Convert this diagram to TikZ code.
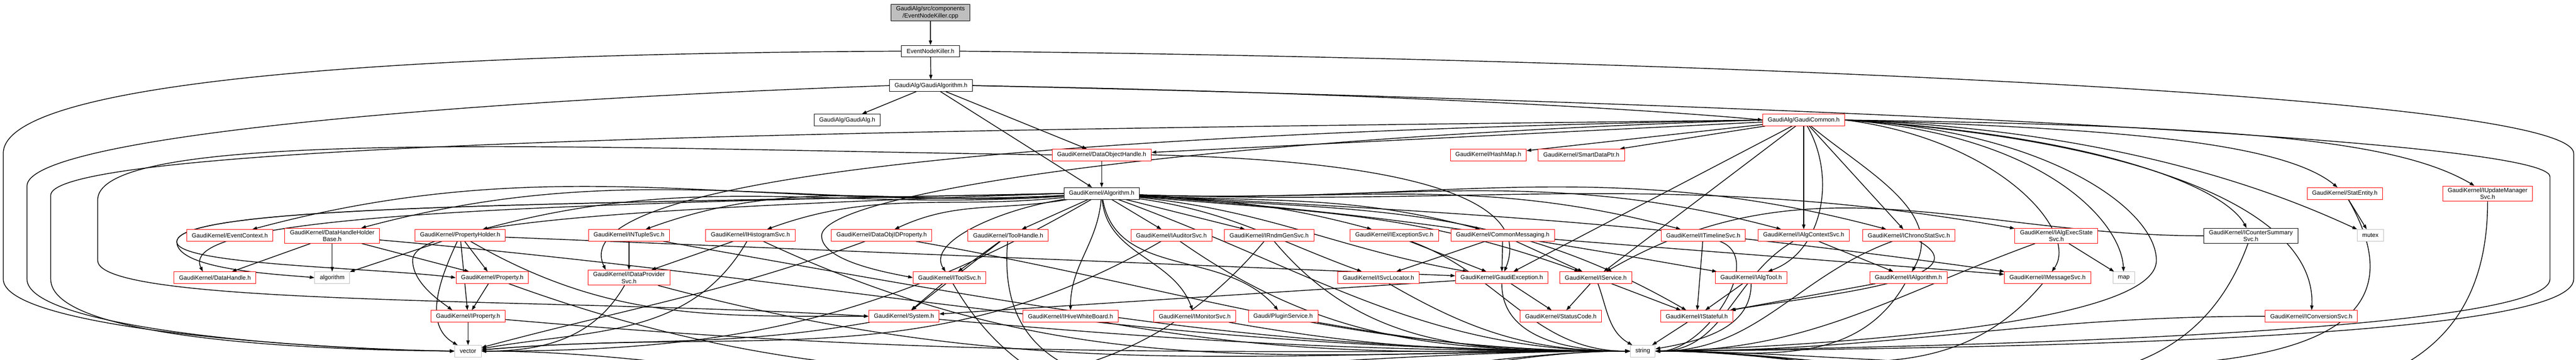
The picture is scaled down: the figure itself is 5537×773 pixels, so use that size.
\documentclass[tikz,border=0pt]{standalone}
\usepackage{fontspec}
\setmainfont{Liberation Sans}
\usetikzlibrary{arrows.meta,backgrounds}

\definecolor{edgeblue}{HTML}{191970}
\definecolor{boxred}{HTML}{FF0000}
\definecolor{boxgrey}{HTML}{BFBFBF}

\tikzset{
  box/.style={draw=black, line width=0.25pt, fill=white, inner xsep=2.75pt, inner ysep=1pt,
    minimum height=6.25pt, align=center, font=\fontsize{3.225}{3.75}\selectfont},
  redbox/.style={box, draw=boxred},
  greybox/.style={box, draw=boxgrey},
  rootbox/.style={box, fill=boxgrey},
}

\begin{document}
\begin{tikzpicture}[x=0.25pt, y=-0.25pt]
  \useasboundingbox (0,0) rectangle (5537,773);
  % include files, one row per rank
  \path
    (2000,27) node[rootbox] (cpp) {GaudiAlg/src/components\\/EventNodeKiller.cpp}
    (2000,110) node[box] (enk) {EventNodeKiller.h}
    (2001,184) node[box] (galgo) {GaudiAlg/GaudiAlgorithm.h}
    (1821,258) node[box] (galg) {GaudiAlg/GaudiAlg.h}
    (3877,258) node[redbox] (gcommon) {GaudiAlg/GaudiCommon.h}
    (2368,333) node[redbox] (doh) {GaudiKernel/DataObjectHandle.h}
    (3199,333) node[redbox] (hashmap) {GaudiKernel/HashMap.h}
    (3399,333) node[redbox] (smartptr) {GaudiKernel/SmartDataPtr.h}
    (2368,416) node[box] (algorithm) {GaudiKernel/Algorithm.h}
    (5040,416) node[redbox] (statentity) {GaudiKernel/StatEntity.h}
    (5347,416) node[redbox] (iupdmgr) {GaudiKernel/IUpdateManager\\Svc.h}
    (494,506) node[redbox] (evctx) {GaudiKernel/EventContext.h}
    (714,507) node[redbox] (dhhb) {GaudiKernel/DataHandleHolder\\Base.h}
    (989,506) node[redbox] (propholder) {GaudiKernel/PropertyHolder.h}
    (1352,506) node[redbox] (intuple) {GaudiKernel/INTupleSvc.h}
    (1613,506) node[redbox] (ihisto) {GaudiKernel/IHistogramSvc.h}
    (1895,506) node[redbox] (dataobjid) {GaudiKernel/DataObjIDProperty.h}
    (2167,506) node[redbox] (toolhandle) {GaudiKernel/ToolHandle.h}
    (2518,506) node[redbox] (iauditor) {GaudiKernel/IAuditorSvc.h}
    (2728,506) node[redbox] (irndm) {GaudiKernel/IRndmGenSvc.h}
    (2997,506) node[redbox] (iexception) {GaudiKernel/IExceptionSvc.h}
    (3230,506) node[redbox] (commonmsg) {GaudiKernel/CommonMessaging.h}
    (3661,506) node[redbox] (itimeline) {GaudiKernel/ITimelineSvc.h}
    (3877,506) node[redbox] (ialgctx) {GaudiKernel/IAlgContextSvc.h}
    (4103,506) node[redbox] (ichrono) {GaudiKernel/IChronoStatSvc.h}
    (4420,507) node[redbox] (ialgexec) {GaudiKernel/IAlgExecState\\Svc.h}
    (4838,507) node[box] (icounter) {GaudiKernel/ICounterSummary\\Svc.h}
    (5095,506) node[greybox] (mutex) {mutex}
    (462,597) node[redbox] (datahandle) {GaudiKernel/DataHandle.h}
    (714,597) node[greybox] (algostd) {algorithm}
    (1058,597) node[redbox] (property) {GaudiKernel/Property.h}
    (1352,597) node[redbox] (idataprov) {GaudiKernel/IDataProvider\\Svc.h}
    (2041,597) node[redbox] (itoolsvc) {GaudiKernel/IToolSvc.h}
    (2963,597) node[redbox] (isvcloc) {GaudiKernel/ISvcLocator.h}
    (3228,597) node[redbox] (gexception) {GaudiKernel/GaudiException.h}
    (3430,597) node[redbox] (iservice) {GaudiKernel/IService.h}
    (3764,597) node[redbox] (ialgtool) {GaudiKernel/IAlgTool.h}
    (4102,597) node[redbox] (ialgorithm) {GaudiKernel/IAlgorithm.h}
    (4401,597) node[redbox] (imsgsvc) {GaudiKernel/IMessageSvc.h}
    (4565,597) node[greybox] (map) {map}
    (1006,680) node[redbox] (iproperty) {GaudiKernel/IProperty.h}
    (1943,680) node[redbox] (system) {GaudiKernel/System.h}
    (2301,680) node[redbox] (ihive) {GaudiKernel/IHiveWhiteBoard.h}
    (2568,680) node[redbox] (imonitor) {GaudiKernel/IMonitorSvc.h}
    (2758,680) node[redbox] (plugin) {Gaudi/PluginService.h}
    (3355,680) node[redbox] (statuscode) {GaudiKernel/StatusCode.h}
    (3647,680) node[redbox] (istateful) {GaudiKernel/IStateful.h}
    (4968,680) node[redbox] (iconversion) {GaudiKernel/IConversionSvc.h}
    (1006,755) node[greybox] (vector) {vector}
    (3531,755) node[greybox] (string) {string};
  \begin{scope}[on background layer, edgeblue, line width=0.25pt, -{Triangle[length=2.5pt,width=1.75pt]}]
    % top of the graph
    \draw (cpp) to (enk);
    \draw (enk) to (galgo);
    \draw (enk.west) .. controls (900,115) and (7,170) .. (7,330) -- (7,600) .. controls (7,700) and (600,748) .. (vector.west);
    \draw (enk.east) .. controls (3500,125) and (5532,200) .. (5532,330) -- (5532,600) .. controls (5532,720) and (4500,748) .. (string.east);
    \draw (galgo) to (galg);
    \draw (galgo.east) .. controls (3000,200) and (3600,240) .. (gcommon.west);
    \draw (galgo) to (doh);
    \draw (galgo) to (algorithm);
    \draw (galgo.west) .. controls (900,220) and (58,300) .. (58,400) -- (58,600) .. controls (58,700) and (600,750) .. (vector.west);
    \draw (galgo.east) .. controls (3500,215) and (5481,290) .. (5481,380) -- (5481,600) .. controls (5481,700) and (4500,742) .. (string.east);
    % GaudiCommon.h
    \draw (gcommon) to (doh);
    \draw (gcommon) to (hashmap);
    \draw (gcommon) to (smartptr);
    \draw (gcommon.east) .. controls (4500,275) and (4900,300) .. (statentity);
    \draw (gcommon.east) .. controls (4800,270) and (5150,300) .. (iupdmgr);
    \draw (gcommon.west) .. controls (2500,275) and (109,290) .. (109,420) -- (109,600) .. controls (109,720) and (600,752) .. (vector.west);
    \draw (gcommon.east) .. controls (4400,280) and (4635,450) .. (4635,560) .. controls (4635,690) and (4000,740) .. (string.east);
    \draw (gcommon) to (ialgctx);
    \draw (gcommon) to (ichrono);
    \draw (gcommon.east) .. controls (4500,290) and (4780,400) .. (icounter);
    \draw (gcommon.east) .. controls (4600,300) and (4980,450) .. (iconversion);
    \draw (gcommon) to (gexception);
    \draw (gcommon.east) .. controls (4300,300) and (4470,500) .. (imsgsvc);
    \draw (gcommon.east) .. controls (4400,290) and (4560,480) .. (map);
    \draw (gcommon.east) .. controls (4600,280) and (4950,440) .. (mutex);
    \draw (gcommon.west) .. controls (2500,300) and (1766,420) .. (1766,507) .. controls (1766,560) and (1900,585) .. (itoolsvc.west);
    \draw (gcommon.west) .. controls (1600,300) and (1240,450) .. ([xshift=-12.5pt]idataprov.north);
    \draw (gcommon) to[out=-40, in=60] (ialgorithm);
    \draw (gcommon) to (iservice);
    \draw (gcommon) to[out=-60, in=20] (ialgtool);
    % DataObjectHandle.h
    \draw (doh) to (algorithm);
    \draw (doh.east) .. controls (3000,345) and (3300,420) .. (gexception);
    \draw (doh.west) .. controls (1300,320) and (210,270) .. (210,430) -- (210,560) .. controls (210,660) and (1200,640) .. (system.west);
    % Algorithm.h
    \draw (algorithm) to[out=183, in=15] (evctx);
    \draw (algorithm) to[out=183, in=15] (dhhb);
    \draw (algorithm) to[out=184, in=15] (propholder);
    \draw (algorithm) to[out=184, in=20] (intuple);
    \draw (algorithm) to[out=186, in=20] (ihisto);
    \draw (algorithm) to[out=190, in=25] (dataobjid);
    \draw (algorithm) to (toolhandle);
    \draw (algorithm) to (iauditor);
    \draw (algorithm) to (irndm);
    \draw (algorithm) to[out=-3, in=165] (iexception);
    \draw (algorithm) to[out=-3, in=165] (commonmsg);
    \draw (algorithm) to[out=-2, in=165] (itimeline);
    \draw (algorithm) to[out=-2, in=165] (ialgctx);
    \draw (algorithm) to[out=-2, in=165] (ichrono);
    \draw (algorithm) to[out=-2, in=170] (ialgexec);
    \draw (algorithm.west) .. controls (1000,440) and (380,470) .. ([xshift=-6.5pt]datahandle.north);
    \draw (algorithm.west) .. controls (1200,440) and (380,440) .. (380,520) .. controls (380,580) and (600,590) .. (algostd.west);
    \draw (algorithm.west) .. controls (1200,440) and (380,440) .. (380,520) .. controls (380,570) and (800,575) .. (property.west);
    \draw (algorithm.west) .. controls (1300,450) and (887,480) .. (887,560) .. controls (887,610) and (950,650) .. ([xshift=-8.5pt]iproperty.north);
    \draw (algorithm) .. controls (2150,450) and (1990,520) .. (itoolsvc);
    \draw (algorithm) to[out=-8, in=160] (isvcloc);
    \draw (algorithm) to[out=-6, in=170] (gexception);
    \draw (algorithm) to[out=-5, in=160] (iservice);
    \draw (algorithm) to[out=-4, in=170] (ialgtool);
    \draw (algorithm) to[out=-3, in=172] (imsgsvc);
    \draw (algorithm) to[out=-95, in=90] (ihive);
    \draw (algorithm) to[out=-85, in=110] (imonitor);
    \draw (algorithm) to[out=-80, in=130] (plugin);
    \draw (algorithm) to[out=-4, in=150] (istateful);
    \draw (algorithm) to[out=-150, in=0] (vector);
    \draw (algorithm) to[out=-20, in=180] (string);
    % upper row of kernel headers
    \draw (dhhb) to (datahandle);
    \draw (dhhb) to (algostd);
    \draw (dhhb) to (property);
    \draw (dhhb) to[out=-5, in=180] (string);
    \draw (propholder) to (algostd);
    \draw (propholder) to[out=-115, in=150] (vector);
    \draw (propholder) to (iproperty);
    \draw (propholder) to (property);
    \draw (propholder) to[out=-30, in=180] (system);
    \draw (propholder) to (gexception);
    \draw (intuple) to (idataprov);
    \draw (intuple) to[out=-10, in=180] (string);
    \draw (ihisto) to (idataprov);
    \draw (ihisto) to[out=-120, in=10] (vector);
    \draw (ihisto) to[out=-25, in=180] (string);
    \draw (dataobjid) to[out=-160, in=15] (vector);
    \draw (dataobjid) to[out=-10, in=180] (string);
    \draw (toolhandle) to (itoolsvc);
    \draw (toolhandle) to (system);
    \draw (toolhandle) to[out=-95, in=180] (string);
    \draw (iauditor) to[out=-150, in=5] (vector);
    \draw (iauditor) to[out=-35, in=180] (string);
    \draw (irndm) to[out=-130, in=0] (vector);
    \draw (irndm) to[out=-50, in=180] (string);
    \draw (iexception) to (gexception);
    \draw (iexception) to[out=-20, in=180] (string);
    \draw (commonmsg) to (isvcloc);
    \draw (commonmsg) to (gexception);
    \draw (commonmsg) to (iservice);
    \draw (commonmsg) to (imsgsvc);
    \draw (itimeline) to[out=-20, in=0] (string);
    \draw (itimeline) to (istateful);
    \draw (ialgctx) to (ialgorithm);
    \draw (ialgctx) to[out=-150, in=0] (string);
    \draw (ichrono) to[out=-160, in=0] (string);
    \draw (ichrono) to[out=-30, in=10] (istateful);
    \draw (ialgexec) to (map);
    \draw (ialgexec) to[out=-160, in=0] (string);
    \draw (icounter) to[out=-110, in=0] (string);
    \draw (icounter) to[out=180, in=30] (iservice);
    \draw (statentity) to (mutex);
    \draw (statentity) to[out=-60, in=0] (string);
    \draw (iupdmgr) to[out=-90, in=0] (string);
    % lower rows
    \draw (property) to (iproperty);
    \draw (property) to[out=-20, in=180] (string);
    \draw (idataprov) to[out=-120, in=0] (vector);
    \draw (idataprov) to[out=-15, in=180] (string);
    \draw (itoolsvc) to (system);
    \draw (itoolsvc) to[out=-60, in=180] (string);
    \draw (isvcloc) to[out=-30, in=180] (string);
    \draw (gexception) to (statuscode);
    \draw (gexception) to (system);
    \draw (gexception) to[out=-90, in=180] (string);
    \draw (iservice) to (statuscode);
    \draw (iservice) to (istateful);
    \draw (iservice) to[out=-70, in=150] (string);
    \draw (ialgtool) to (istateful);
    \draw (ialgtool) to[out=-90, in=10] (string);
    \draw (ialgorithm) to (istateful);
    \draw (ialgorithm) to[out=-120, in=0] (string);
    \draw (imsgsvc) to[out=-130, in=0] (string);
    \draw (iproperty) to (vector);
    \draw (iproperty) to[out=-5, in=180] (string);
    \draw (system) to[out=-5, in=180] (string);
    \draw (system) to[out=-170, in=5] (vector);
    \draw (ihive) to[out=-10, in=180] (string);
    \draw (imonitor) to[out=-10, in=180] (string);
    \draw (plugin) to[out=-10, in=180] (string);
    \draw (istateful) to (string);
    \draw (iconversion) to[out=180, in=0] (string);
  \end{scope}
\end{tikzpicture}
\end{document}
